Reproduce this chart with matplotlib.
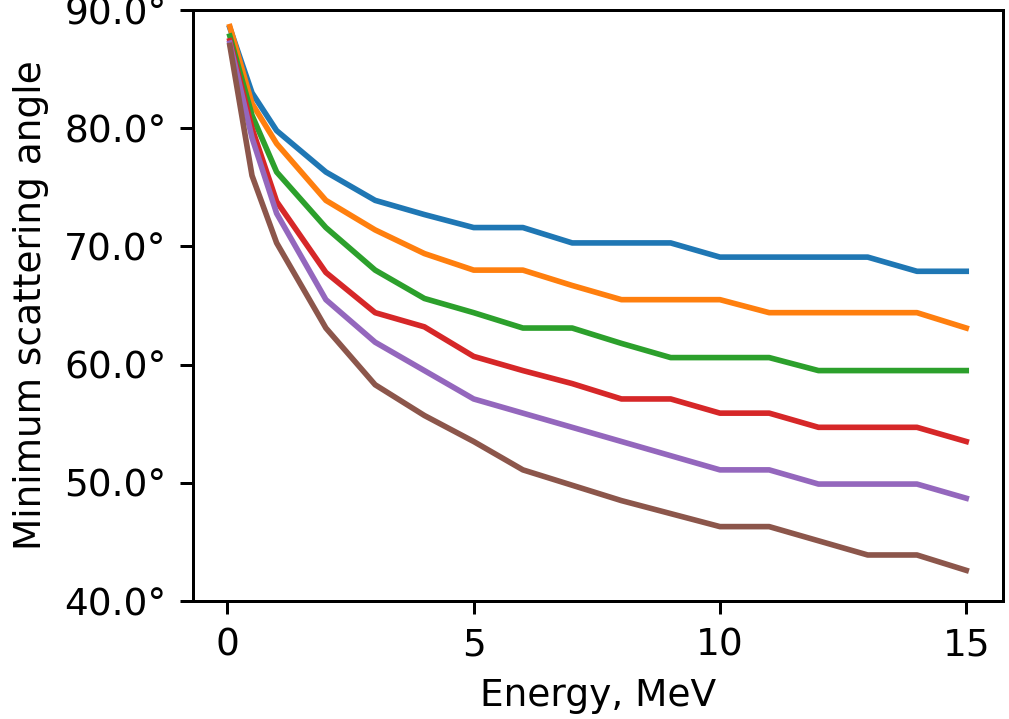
import matplotlib
matplotlib.use("Agg")
import matplotlib.pyplot as plt
from matplotlib.ticker import FuncFormatter

# energies in MeV
energy = [0.05, 0.5, 1, 2, 3, 4, 5, 6, 7, 8, 9, 10, 11, 12, 13, 14, 15]

# minimum angle (degrees), one curve per case
angle_1 = [88.5, 83.0, 79.8, 76.3, 73.9, 72.7, 71.6, 71.6, 70.3, 70.3, 70.3, 69.1, 69.1, 69.1, 69.1, 67.9, 67.9]
angle_2 = [88.6, 82.1, 78.7, 73.9, 71.4, 69.4, 68.0, 68.0, 66.7, 65.5, 65.5, 65.5, 64.4, 64.4, 64.4, 64.4, 63.1]
angle_3 = [87.8, 81.1, 76.3, 71.6, 68.0, 65.6, 64.4, 63.1, 63.1, 61.8, 60.6, 60.6, 60.6, 59.5, 59.5, 59.5, 59.5]
angle_4 = [87.4, 80.0, 73.8, 67.8, 64.4, 63.2, 60.7, 59.5, 58.4, 57.1, 57.1, 55.9, 55.9, 54.7, 54.7, 54.7, 53.5]
angle_5 = [87.2, 79.2, 72.8, 65.5, 61.9, 59.5, 57.1, 55.9, 54.7, 53.5, 52.3, 51.1, 51.1, 49.9, 49.9, 49.9, 48.7]
angle_6 = [87.0, 76.0, 70.3, 63.1, 58.3, 55.7, 53.5, 51.1, 49.8, 48.5, 47.4, 46.3, 46.3, 45.1, 43.9, 43.9, 42.6]

curves = [angle_1, angle_2, angle_3, angle_4, angle_5, angle_6]

fig = plt.figure(figsize=(1009 / 270, 719 / 270), dpi=270)
ax = fig.add_subplot(111)
fig.subplots_adjust(left=0.1913, right=0.9941, top=0.986, bottom=0.164)

for ys in curves:
    ax.plot(energy, ys)

ax.set_ylim(40, 90)
ax.set_xticks([0, 5, 10, 15])
ax.yaxis.set_major_formatter(FuncFormatter(lambda v, _: f"{v:.1f}°"))
ax.set_xlabel("Energy, MeV")
ax.set_ylabel("Minimum scattering angle")

fig.savefig("out.png", dpi=270)
